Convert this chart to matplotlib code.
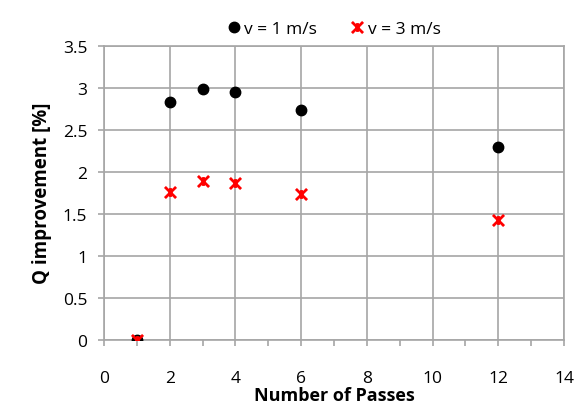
import matplotlib
matplotlib.use("Agg")
import matplotlib.pyplot as plt  # noqa: E402
from matplotlib.path import Path  # noqa: E402
from matplotlib.ticker import MultipleLocator  # noqa: E402

passes = [1, 2, 3, 4, 6, 12]
q_v1 = [0.0, 2.83, 2.99, 2.95, 2.74, 2.29]
q_v3 = [0.0, 1.76, 1.89, 1.87, 1.73, 1.43]
series_labels = ["v = 1 m/s", "v = 3 m/s"]

plt.rcParams["font.family"] = ["Open Sans", "DejaVu Sans"]

# Excel-style star: an x with a short vertical bar
star = Path(
    [(-1, -1), (1, 1), (-1, 1), (1, -1), (0, -0.8), (0, 0.8)],
    [Path.MOVETO, Path.LINETO, Path.MOVETO, Path.LINETO, Path.MOVETO, Path.LINETO],
)

fig = plt.figure(figsize=(5.79, 4.10), dpi=100)
ax = fig.add_axes([0.1796, 0.169, 0.7944, 0.717])

grid_col = "#a6a6a6"
ax.plot(passes, q_v1, linestyle="none", marker="o", markersize=7.5,
        color="black", label=series_labels[0], zorder=3)
ax.plot(passes, q_v3, linestyle="none", marker=star, markersize=8,
        markeredgewidth=2, color="red", label=series_labels[1], zorder=4)

ax.set_xlim(0, 14)
ax.set_ylim(0, 3.5)
ax.xaxis.set_major_locator(MultipleLocator(2))
ax.xaxis.set_minor_locator(MultipleLocator(1))
ax.set_yticks([0, 0.5, 1, 1.5, 2, 2.5, 3, 3.5])
ax.set_yticklabels(["0", "0.5", "1", "1.5", "2", "2.5", "3", "3.5"])
ax.grid(True, which="major", color=grid_col, linewidth=1.2)
ax.set_axisbelow(True)
for s in ax.spines.values():
    s.set_color(grid_col)
    s.set_linewidth(1.2)
ax.tick_params(axis="both", which="both", colors=grid_col, labelcolor="black",
               labelsize=12.5, direction="out", length=4, width=1.2)
ax.tick_params(axis="x", pad=18)
ax.tick_params(axis="y", pad=8)

ax.set_xlabel("Number of Passes", fontsize=13, fontweight="bold", labelpad=0)
ax.set_ylabel("Q improvement [%]", fontsize=13.5, fontweight="bold", labelpad=8)

fig.legend(loc="upper center", bbox_to_anchor=(0.575, 0.985), ncol=2, frameon=False,
           fontsize=12.5, handletextpad=0.1, columnspacing=1.8, handlelength=1.0)

fig.savefig("out.png", dpi=100)
